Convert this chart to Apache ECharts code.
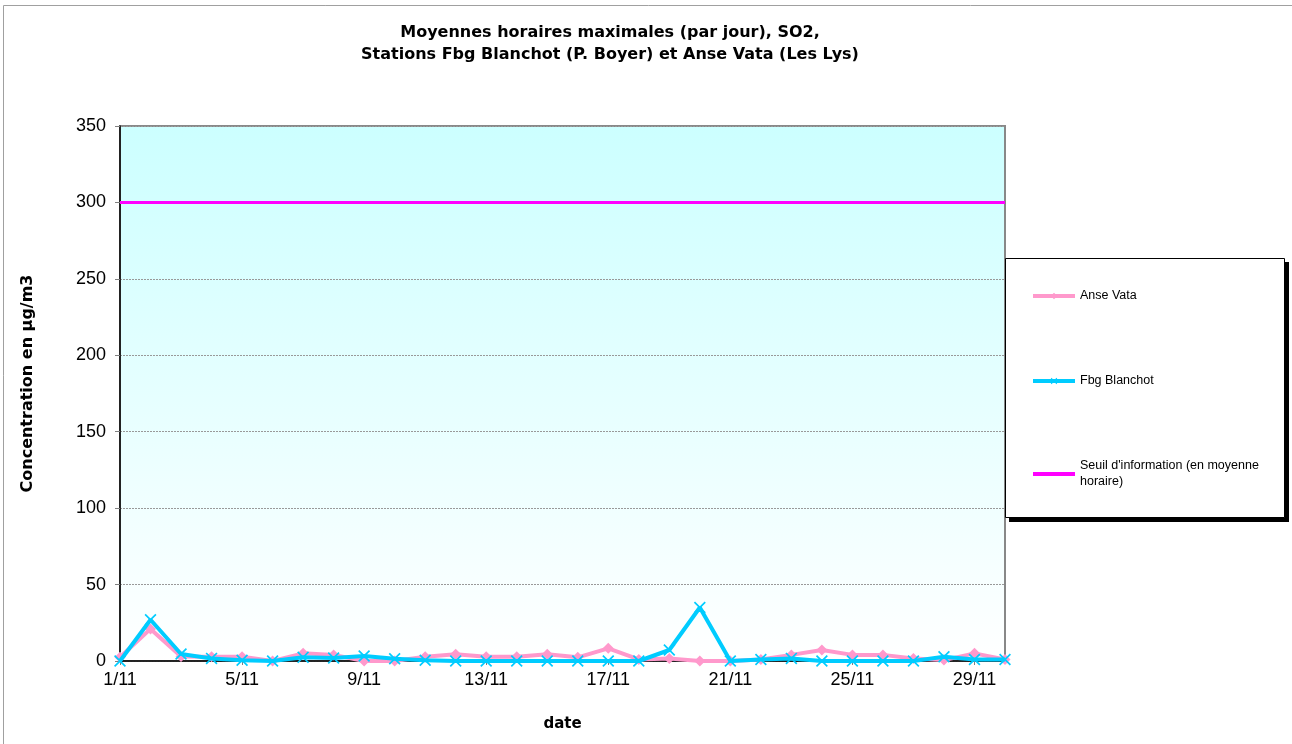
<!DOCTYPE html>
<html>
<head>
<meta charset="utf-8">
<script src="https://cdn.jsdelivr.net/npm/echarts@6/dist/echarts.min.js"></script>
<style>
html,body{margin:0;padding:0;background:#fff;}
#chart{width:1292px;height:744px;}
</style>
</head>
<body>
<div id="chart"></div>
<script>
const categories = ['1/11','2/11','3/11','4/11','5/11','6/11','7/11','8/11','9/11','10/11',
  '11/11','12/11','13/11','14/11','15/11','16/11','17/11','18/11','19/11','20/11',
  '21/11','22/11','23/11','24/11','25/11','26/11','27/11','28/11','29/11','30/11'];
const anseVata = [2.4, 21, 3, 2.8, 2.8, 0, 5, 4, 0, 0, 2.8, 4.4, 2.8, 2.8, 4.4, 2.4, 8.3, 1, 1.7, 0,
  0, 1, 4, 7.2, 4, 4, 1.7, 0.6, 5, 1];
const fbgBlanchot = [0, 27, 4.6, 1.7, 0.5, 0, 2.4, 2, 3.3, 1.5, 0.5, 0, 0, 0, 0, 0, 0, 0, 7.2, 35,
  0, 1, 1.7, 0, 0, 0, 0, 2.8, 1, 1];
const seuil = categories.map(() => 300);
const seriesNames = ['Anse Vata', 'Fbg Blanchot', "Seuil d'information (en moyenne\nhoraire)"];
const titleText = 'Moyennes horaires maximales (par jour), SO2,\nStations Fbg Blanchot (P. Boyer) et Anse Vata (Les Lys)';
const yAxisName = 'Concentration en µg/m3';
const xAxisName = 'date';

const xPath = 'path://M0,1L1,0L5,4L9,0L10,1L6,5L10,9L9,10L5,6L1,10L0,9L4,5Z';
const font = 'Arial, "Liberation Sans", sans-serif';
const boldFont = '"DejaVu Sans", Arial, sans-serif';

const chart = echarts.init(document.getElementById('chart'));
chart.setOption({
  animation: false,
  backgroundColor: '#fff',
  textStyle: { fontFamily: font },
  title: {
    text: titleText,
    left: 605, top: 17, textAlign: 'center',
    textStyle: { fontSize: 16, fontWeight: 'bold', color: '#000', lineHeight: 22, fontFamily: boldFont }
  },
  graphic: [
    { type: 'rect', shape: { x: 3.5, y: 5.5, width: 1400, height: 800 }, style: { fill: 'none', stroke: '#a0a0a0', lineWidth: 1 }, z: -10 },
    { type: 'rect', shape: { x: 1009, y: 262, width: 280, height: 260 }, style: { fill: '#000' }, z: 5 },
    { type: 'rect', shape: { x: 1005.5, y: 258.5, width: 279, height: 259 },
      style: { fill: '#fff', stroke: '#000', lineWidth: 1 }, z: 6 }
  ],
  legend: {
    orient: 'vertical',
    left: 1026, top: 283,
    itemWidth: 42, itemHeight: 8, itemGap: 69,
    z: 10,
    lineStyle: { width: 4 },
    textStyle: { fontSize: 12.5, color: '#000', lineHeight: 16, fontFamily: font },
    data: [
      { name: seriesNames[0] },
      { name: seriesNames[1] },
      { name: seriesNames[2], itemStyle: { opacity: 0 } }
    ]
  },
  grid: {
    left: 120, right: 287, top: 126, bottom: 83,
    show: true, borderColor: '#888', borderWidth: 2,
    backgroundColor: { type: 'linear', x: 0, y: 0, x2: 0, y2: 1,
      colorStops: [{ offset: 0, color: '#ccffff' }, { offset: 1, color: '#ffffff' }] }
  },
  xAxis: {
    type: 'category', data: categories, boundaryGap: false,
    name: xAxisName, nameLocation: 'middle', nameGap: 56,
    nameTextStyle: { fontSize: 15, fontWeight: 'bold', color: '#000', fontFamily: boldFont },
    axisLine: { lineStyle: { color: '#000', width: 1.5 } },
    axisTick: { show: true, interval: 3, length: 4, lineStyle: { color: '#808080' } },
    axisLabel: { interval: 3, fontSize: 18, color: '#000', margin: 10 },
    splitLine: { show: false }
  },
  yAxis: {
    type: 'value', min: 0, max: 350, interval: 50,
    name: yAxisName, nameLocation: 'middle', nameGap: 84,
    nameTextStyle: { fontSize: 16, fontWeight: 'bold', color: '#000', fontFamily: boldFont, padding: [0, 0, 0, 20] },
    axisLine: { show: true, lineStyle: { color: '#000', width: 1.5 } },
    axisTick: { show: true, length: 5, lineStyle: { color: '#808080' } },
    axisLabel: { fontSize: 18, color: '#000', margin: 14 },
    splitLine: { show: true, lineStyle: { color: '#999', type: [2, 1], width: 1 } }
  },
  series: [
    { name: seriesNames[0], type: 'line', data: anseVata, color: '#ff99cc',
      symbol: 'diamond', symbolSize: 11, showAllSymbol: true,
      lineStyle: { width: 4, color: '#ff99cc' }, itemStyle: { color: '#ff99cc' }, z: 3 },
    { name: seriesNames[1], type: 'line', data: fbgBlanchot, color: '#00ccff',
      symbol: xPath, symbolSize: 12, showAllSymbol: true,
      lineStyle: { width: 4, color: '#00ccff' }, itemStyle: { color: '#00ccff' }, z: 4 },
    { name: seriesNames[2], type: 'line', data: seuil, color: '#ff00ff',
      symbol: 'none', lineStyle: { width: 3, color: '#ff00ff' }, z: 2 }
  ]
});
</script>
</body>
</html>
